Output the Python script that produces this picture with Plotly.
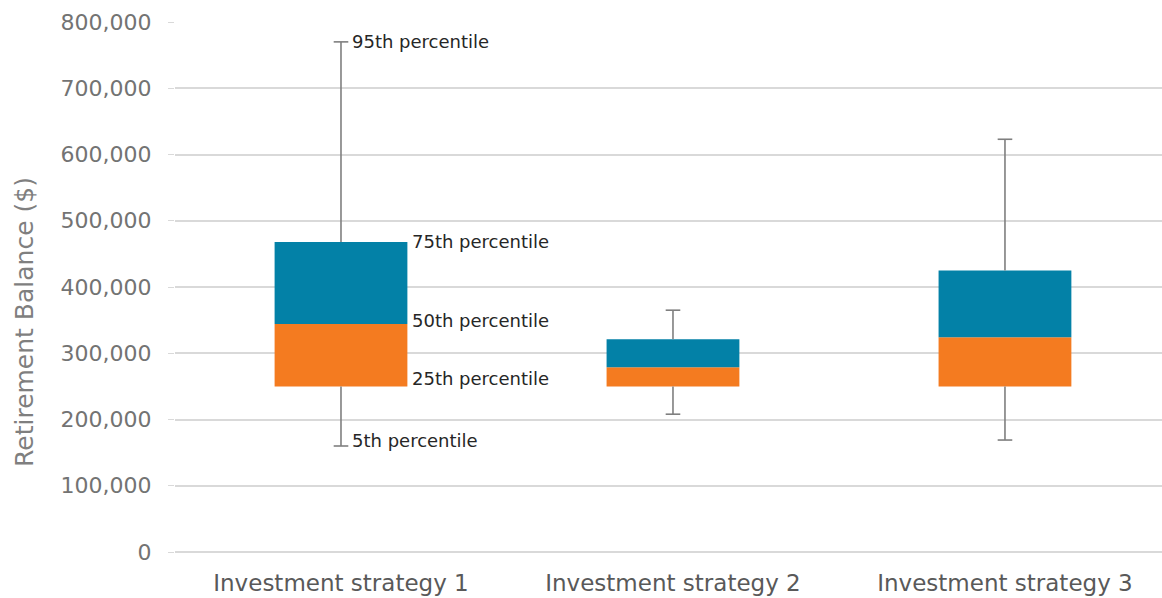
import plotly.graph_objects as go

# Retirement balance percentiles by investment strategy
strategies = ["Investment strategy 1", "Investment strategy 2", "Investment strategy 3"]
p5 = [160000, 208000, 169000]
p25 = [250000, 250000, 250000]
p50 = [344000, 279000, 324000]
p75 = [468000, 321000, 425000]
p95 = [770000, 365000, 623000]

percentile_labels = ["95th percentile", "75th percentile", "50th percentile",
                     "25th percentile", "5th percentile"]

BLUE = "#0381A7"
ORANGE = "#F47B20"
WHISKER = "#7F7F7F"
FONT = "DejaVu Sans"

xs = list(range(len(strategies)))
box_w = 0.4
cap = 0.022

fig = go.Figure()

# lower half of the box (25th -> median)
fig.add_trace(go.Bar(
    x=xs, y=[m - q for m, q in zip(p50, p25)], base=p25,
    width=box_w, marker=dict(color=ORANGE, line=dict(width=0)),
    hoverinfo="skip", showlegend=False,
))
# upper half of the box (median -> 75th)
fig.add_trace(go.Bar(
    x=xs, y=[q - m for q, m in zip(p75, p50)], base=p50,
    width=box_w, marker=dict(color=BLUE, line=dict(width=0)),
    hoverinfo="skip", showlegend=False,
))

# whiskers with end caps
wx, wy = [], []
for i in xs:
    wx += [i, i, None, i, i, None,
           i - cap, i + cap, None, i - cap, i + cap, None]
    wy += [p75[i], p95[i], None, p25[i], p5[i], None,
           p95[i], p95[i], None, p5[i], p5[i], None]
fig.add_trace(go.Scatter(
    x=wx, y=wy, mode="lines", line=dict(color=WHISKER, width=1.6),
    hoverinfo="skip", showlegend=False,
))

# percentile labels on the first strategy
s = 0
label_specs = [
    (p95[s], s + cap, 2, 0),
    (p75[s], s + box_w / 2, 3, 0),
    (p50[s], s + box_w / 2, 3, 4),
    (p25[s], s + box_w / 2, 3, 8),
    (p5[s], s + cap, 2, 6),
]
for text, (yv, xv, xs_px, ys_px) in zip(percentile_labels, label_specs):
    fig.add_annotation(
        x=xv, y=yv, text=text, showarrow=False,
        xanchor="left", yanchor="middle", xshift=xs_px, yshift=ys_px,
        font=dict(family=FONT, size=18, color="#262626"),
    )

# y-axis title, placed a little below the vertical centre of the plot
fig.add_annotation(
    text="Retirement Balance ($)", textangle=-90, showarrow=False,
    xref="paper", yref="paper", x=0, y=0.434, xanchor="center", yanchor="middle",
    xshift=-150,
    font=dict(family=FONT, size=25, color="#7F7F7F"),
)

fig.update_layout(
    width=1162, height=598,
    margin=dict(l=175, r=0, t=22, b=46),
    paper_bgcolor="white", plot_bgcolor="white",
    barmode="overlay",
    font=dict(family=FONT, color="#595959"),
)
fig.update_xaxes(
    range=[-0.5, 2.473], tickmode="array", tickvals=xs, ticktext=strategies,
    showgrid=False, zeroline=False, showline=False, ticks="",
    ticklabelstandoff=15,
    tickfont=dict(family=FONT, size=23, color="#595959"),
)
fig.update_yaxes(
    range=[0, 800000], dtick=100000, tickformat=",d",
    showgrid=True, gridcolor="#D9D9D9", gridwidth=1.5,
    zeroline=True, zerolinecolor="#D9D9D9", zerolinewidth=1.5,
    showline=False, ticks="outside", ticklen=6, tickcolor="#D9D9D9",
    ticklabelstandoff=12,
    tickfont=dict(family=FONT, size=22, color="#737373"),
)

fig.write_html("out.html")
